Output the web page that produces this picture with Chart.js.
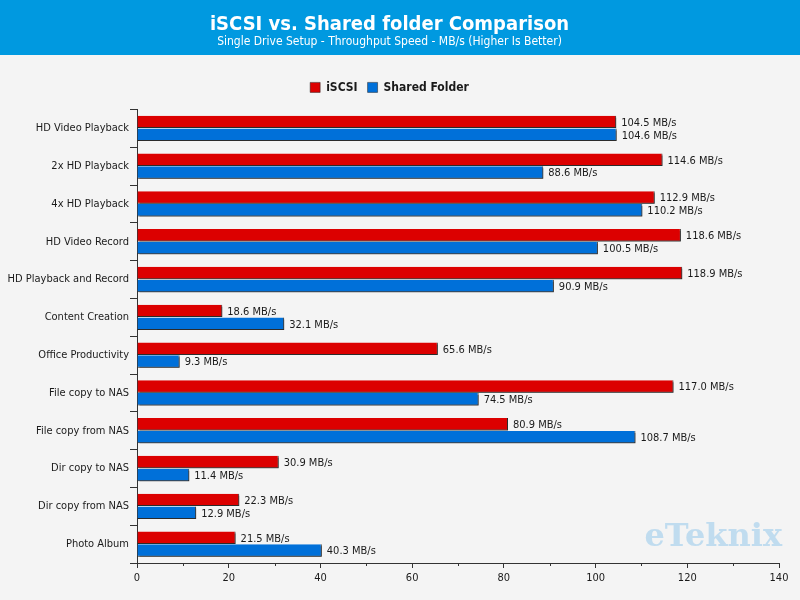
<!DOCTYPE html>
<html>
  <head>
    <title>iSCSI vs. Shared folder Comparison</title>
    <script src="https://cdn.jsdelivr.net/npm/chart.js"></script>
    <style>
      body { margin: 0; background: #f4f4f4; }
    </style>
  </head>
  <body>
    <canvas id="compareChart" width="800" height="600"></canvas>

    <script>
      const categories = [
        "HD Video Playback", "2x HD Playback", "4x HD Playback", "HD Video Record",
        "HD Playback and Record", "Content Creation", "Office Productivity",
        "File copy to NAS", "File copy from NAS", "Dir copy to NAS",
        "Dir copy from NAS", "Photo Album",
      ];
      const iscsiValues = [104.5, 114.6, 112.9, 118.6, 118.9, 18.6, 65.6, 117.0, 80.9, 30.9, 22.3, 21.5];
      const sharedValues = [104.6, 88.6, 110.2, 100.5, 90.9, 32.1, 9.3, 74.5, 108.7, 11.4, 12.9, 40.3];
      const minorTicks = [10, 30, 50, 70, 90, 110, 130];

      const FONT = 'Tahoma, "DejaVu Sans Condensed", "DejaVu Sans", sans-serif';

      // background, header band and watermark
      const backdrop = {
        id: "backdrop",
        beforeDraw(chart) {
          const ctx = chart.ctx;
          ctx.save();
          ctx.fillStyle = "#f4f4f4";
          ctx.fillRect(0, 0, chart.width, chart.height);
          ctx.fillStyle = "#0099e0";
          ctx.fillRect(0, 0, chart.width, 55);
          ctx.font = 'bold 32px "DejaVu Serif", serif';
          ctx.fillStyle = "rgba(150, 200, 235, 0.55)";
          ctx.textAlign = "right";
          ctx.textBaseline = "alphabetic";
          ctx.fillText("eTeknix", 782, 546);
          ctx.restore();
        },
      };

      // bar shadows + value labels
      const barDecor = {
        id: "barDecor",
        beforeDatasetsDraw(chart) {
          const ctx = chart.ctx;
          ctx.save();
          ctx.shadowColor = "rgba(50, 50, 50, 0.6)";
          ctx.shadowOffsetX = 2;
          ctx.shadowOffsetY = 2;
          ctx.shadowBlur = 0;
        },
        afterDatasetsDraw(chart) {
          const ctx = chart.ctx;
          ctx.restore();
          ctx.save();
          ctx.font = "11px " + FONT;
          ctx.fillStyle = "#1a1a1a";
          ctx.textAlign = "left";
          ctx.textBaseline = "middle";
          chart.data.datasets.forEach((ds, i) => {
            chart.getDatasetMeta(i).data.forEach((bar, j) => {
              ctx.fillText(ds.data[j].toFixed(1) + " MB/s", bar.x + 5, bar.y + 1);
            });
          });
          // minor ticks on the value axis
          const xs = chart.scales.x;
          ctx.strokeStyle = "#333";
          ctx.lineWidth = 1;
          ctx.beginPath();
          minorTicks.forEach((v) => {
            const px = Math.round(xs.getPixelForValue(v)) + 0.5;
            ctx.moveTo(px, xs.top);
            ctx.lineTo(px, xs.top + 3);
          });
          ctx.stroke();
          ctx.restore();
        },
      };

      const ctx = document.getElementById("compareChart").getContext("2d");
      new Chart(ctx, {
        type: "bar",
        data: {
          labels: categories,
          datasets: [
            {
              label: "iSCSI",
              data: iscsiValues,
              backgroundColor: "#dc0000",
              borderColor: "#222",
              borderWidth: { top: 0, left: 0, right: 1, bottom: 1 },
              borderSkipped: false,
            },
            {
              label: "Shared Folder",
              data: sharedValues,
              backgroundColor: "#0070d9",
              borderColor: "#222",
              borderWidth: { top: 0, left: 0, right: 1, bottom: 1 },
              borderSkipped: false,
            },
          ],
        },
        options: {
          indexAxis: "y",
          responsive: false,
          animation: false,
          categoryPercentage: 0.68,
          barPercentage: 0.97,
          layout: { padding: { left: 0, right: 21, top: 0, bottom: 0 } },
          plugins: {
            title: {
              display: true,
              text: "iSCSI vs. Shared folder Comparison",
              color: "#ffffff",
              font: { family: FONT, size: 20, weight: "bold", lineHeight: 1.0 },
              padding: { top: 15, bottom: 0 },
            },
            subtitle: {
              display: true,
              text: "Single Drive Setup - Throughput Speed - MB/s (Higher Is Better)",
              color: "#ffffff",
              font: { family: FONT, size: 12, lineHeight: 1.2 },
              padding: { top: 0, bottom: 22 },
            },
            legend: {
              position: "top",
              labels: {
                color: "#1a1a1a",
                font: { family: FONT, size: 12, weight: "bold" },
                boxWidth: 10,
                boxHeight: 10,
                padding: 10,
              },
            },
            tooltip: { enabled: false },
          },
          scales: {
            x: {
              min: 0,
              max: 140,
              ticks: {
                stepSize: 20,
                color: "#1a1a1a",
                font: { family: FONT, size: 11 },
                padding: 4,
              },
              grid: { drawOnChartArea: false, tickLength: 5, tickColor: "#333" },
              border: { color: "#333" },
              afterFit: (s) => { s.height = 37; },
            },
            y: {
              ticks: {
                color: "#1a1a1a",
                font: { family: FONT, size: 11 },
                padding: 1,
              },
              grid: { drawOnChartArea: false, tickLength: 7, tickColor: "#333" },
              border: { color: "#333" },
              afterFit: (s) => { s.width = 137; },
            },
            spacer: {
              type: "linear",
              axis: "x",
              position: "top",
              display: true,
              ticks: { display: false },
              grid: { display: false, drawTicks: false },
              border: { display: false },
              afterFit: (s) => { s.height = 6; },
            },
          },
        },
        plugins: [backdrop, barDecor],
      });
    </script>
  </body>
</html>
